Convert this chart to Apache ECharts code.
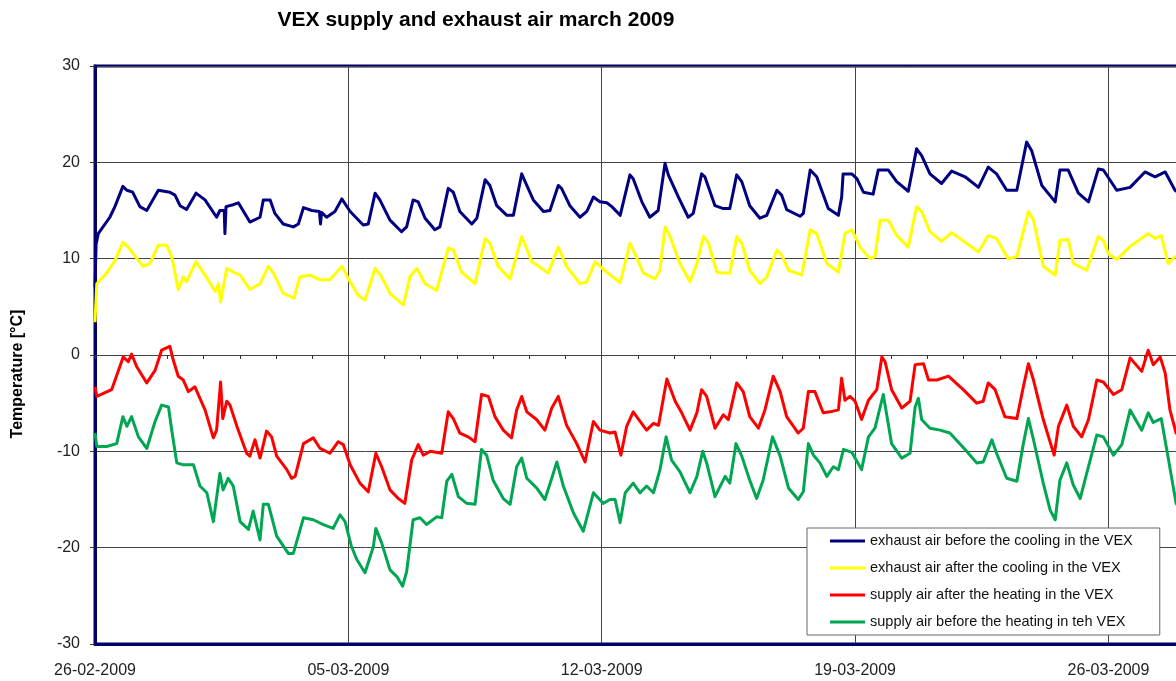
<!DOCTYPE html>
<html>
<head>
<meta charset="utf-8">
<title>VEX supply and exhaust air march 2009</title>
<script src="https://cdn.jsdelivr.net/npm/echarts@6/dist/echarts.min.js"></script>
<style>
  html, body { margin: 0; padding: 0; background: #fff; }
  #chart { width: 1176px; height: 681px; }
</style>
</head>
<body>
<div id="chart"></div>
<script>
// x = days since 26-02-2009 00:00, y = temperature in °C
const dateTicks = ['26-02-2009', '05-03-2009', '12-03-2009', '19-03-2009', '26-03-2009']

const exhaustBefore = [
  [0, 7.0], [0.03, 11.5], [0.09, 12.6], [0.41, 14.3], [0.55, 15.4], [0.77, 17.5], [0.88, 17.1], [1.04, 16.9],
  [1.24, 15.4], [1.43, 15.0], [1.75, 17.1], [2.07, 16.9], [2.21, 16.6], [2.35, 15.5], [2.53, 15.1],
  [2.79, 16.8], [3.04, 16.1], [3.36, 14.3], [3.45, 15.0], [3.57, 15.0], [3.59, 12.6], [3.62, 15.4],
  [3.82, 15.6], [3.96, 15.8], [4.28, 13.8], [4.56, 14.3], [4.65, 16.1], [4.84, 16.1], [4.97, 14.7],
  [5.20, 13.6], [5.48, 13.3], [5.62, 13.6], [5.76, 15.3], [5.99, 15.0], [6.20, 14.9], [6.23, 13.6],
  [6.26, 14.8], [6.40, 14.3], [6.63, 14.9], [6.82, 16.2], [7.05, 14.9], [7.41, 13.5], [7.55, 13.6],
  [7.74, 16.8], [7.87, 16.1], [8.15, 14.0], [8.47, 12.8], [8.61, 13.3], [8.79, 16.1], [8.93, 15.9],
  [9.12, 14.2], [9.39, 13.0], [9.53, 13.3], [9.76, 17.3], [9.90, 16.9], [10.08, 14.9], [10.41, 13.6],
  [10.55, 14.2], [10.78, 18.2], [10.91, 17.6], [11.10, 15.5], [11.38, 14.5], [11.56, 14.5], [11.79, 18.8],
  [11.93, 17.6], [12.11, 16.1], [12.39, 14.9], [12.57, 15.0], [12.80, 17.6], [12.89, 17.3], [13.12, 15.5],
  [13.40, 14.3], [13.59, 14.9], [13.77, 16.4], [13.95, 15.9], [14.14, 15.8], [14.28, 15.4], [14.51, 14.5],
  [14.78, 18.7], [14.87, 18.3], [15.11, 15.9], [15.33, 14.3], [15.56, 15.0], [15.75, 19.9], [15.84, 18.7],
  [16.12, 16.4], [16.39, 14.3], [16.53, 14.7], [16.76, 18.8], [16.85, 18.5], [17.13, 15.5], [17.36, 15.2],
  [17.54, 15.2], [17.73, 18.7], [17.87, 18.0], [18.09, 15.5], [18.37, 14.2], [18.56, 14.5], [18.84, 17.1],
  [18.97, 16.6], [19.11, 15.1], [19.48, 14.4], [19.57, 14.7], [19.76, 19.2], [19.94, 18.5], [20.26, 15.2],
  [20.54, 14.5], [20.63, 16.4], [20.67, 18.8], [20.91, 18.8], [21.05, 18.3], [21.23, 16.9], [21.50, 16.7],
  [21.64, 19.2], [21.92, 19.2], [22.15, 18.0], [22.47, 17.0], [22.70, 21.4], [22.84, 20.7], [23.07, 18.8],
  [23.39, 17.8], [23.67, 19.1], [24.04, 18.5], [24.41, 17.4], [24.68, 19.5], [24.91, 18.8], [25.19, 17.1],
  [25.47, 17.1], [25.74, 22.1], [25.88, 21.2], [26.16, 17.6], [26.53, 15.9], [26.66, 19.2], [26.89, 19.2],
  [27.17, 16.8], [27.45, 15.9], [27.72, 19.3], [27.86, 19.2], [28.23, 17.1], [28.60, 17.4], [29.01, 19.0],
  [29.29, 18.5], [29.57, 19.0], [29.84, 17.1], [30.1, 16.4]
]

const exhaustAfter = [
  [0, 3.4], [0.05, 7.4], [0.32, 8.5], [0.55, 9.8], [0.77, 11.7], [0.92, 11.2], [1.06, 10.5], [1.33, 9.2],
  [1.52, 9.5], [1.75, 11.4], [1.98, 11.4], [2.12, 10.2], [2.30, 6.8], [2.44, 8.1], [2.53, 7.6], [2.79, 9.7],
  [3.04, 8.3], [3.32, 6.6], [3.41, 7.4], [3.47, 5.5], [3.64, 9.0], [3.82, 8.6], [4.01, 8.3], [4.28, 6.8],
  [4.56, 7.4], [4.79, 9.2], [4.93, 8.5], [5.20, 6.4], [5.50, 5.9], [5.66, 8.1], [5.94, 8.3], [6.22, 7.8],
  [6.49, 7.8], [6.82, 9.2], [7.05, 7.6], [7.27, 6.2], [7.46, 5.7], [7.74, 9.0], [7.92, 8.1], [8.15, 6.4],
  [8.52, 5.2], [8.70, 8.1], [8.89, 9.0], [9.12, 7.4], [9.44, 6.7], [9.76, 11.1], [9.90, 10.9], [10.13, 8.6],
  [10.50, 7.4], [10.78, 12.1], [10.91, 11.6], [11.14, 9.2], [11.47, 7.9], [11.79, 12.3], [12.07, 9.7],
  [12.52, 8.5], [12.80, 11.2], [13.03, 9.2], [13.40, 7.4], [13.59, 7.6], [13.82, 9.7], [14.04, 8.9],
  [14.51, 7.5], [14.78, 11.6], [14.92, 10.5], [15.15, 8.5], [15.47, 7.9], [15.61, 8.8], [15.75, 13.3],
  [15.89, 12.3], [16.16, 9.5], [16.44, 7.6], [16.63, 9.5], [16.81, 12.3], [16.95, 11.6], [17.18, 8.6],
  [17.36, 8.5], [17.54, 8.5], [17.73, 12.3], [17.87, 11.6], [18.09, 8.8], [18.37, 7.4], [18.56, 8.1],
  [18.84, 10.9], [18.97, 10.4], [19.16, 8.8], [19.53, 8.3], [19.76, 13.0], [19.94, 12.6], [20.22, 9.5],
  [20.54, 8.6], [20.72, 12.6], [20.91, 13.0], [21.14, 11.2], [21.41, 10.0], [21.55, 10.2], [21.69, 14.0],
  [21.92, 14.0], [22.15, 12.4], [22.47, 11.2], [22.70, 15.4], [22.84, 14.9], [23.07, 12.8], [23.39, 11.8],
  [23.67, 12.7], [24.04, 11.7], [24.41, 10.7], [24.68, 12.4], [24.91, 12.1], [25.23, 10.0], [25.47, 10.2],
  [25.79, 14.9], [25.93, 14.0], [26.20, 9.2], [26.53, 8.3], [26.66, 11.9], [26.89, 12.0], [27.03, 9.5],
  [27.40, 8.8], [27.72, 12.3], [27.86, 11.9], [28.00, 10.5], [28.23, 9.9], [28.64, 11.4], [29.10, 12.6],
  [29.29, 12.1], [29.46, 12.4], [29.65, 9.5], [29.84, 10.2], [30.1, 10.0]
]

const supplyAfter = [
  [0, -3.3], [0.05, -4.3], [0.46, -3.6], [0.78, -0.2], [0.92, -0.7], [1.01, 0.1], [1.15, -1.2], [1.43, -2.9],
  [1.66, -1.6], [1.84, 0.5], [2.07, 0.9], [2.16, -0.5], [2.30, -2.2], [2.44, -2.6], [2.58, -3.8],
  [2.76, -3.3], [3.04, -5.7], [3.27, -8.6], [3.36, -7.8], [3.47, -2.8], [3.53, -6.6], [3.64, -4.8],
  [3.73, -5.2], [3.92, -7.4], [4.19, -10.2], [4.28, -10.5], [4.42, -8.8], [4.56, -10.7], [4.74, -7.9],
  [4.88, -8.5], [5.02, -10.5], [5.30, -11.9], [5.43, -12.8], [5.53, -12.6], [5.76, -9.2], [6.03, -8.6],
  [6.22, -9.7], [6.49, -10.2], [6.72, -9.0], [6.86, -9.3], [7.05, -11.4], [7.32, -13.3], [7.55, -14.2],
  [7.76, -10.2], [7.92, -11.6], [8.15, -14.0], [8.38, -14.9], [8.56, -15.4], [8.75, -10.9], [8.93, -9.3],
  [9.07, -10.4], [9.26, -10.0], [9.58, -10.2], [9.76, -5.9], [9.90, -6.6], [10.08, -8.1], [10.31, -8.5],
  [10.50, -9.0], [10.68, -4.1], [10.87, -4.3], [11.05, -6.4], [11.28, -7.8], [11.51, -8.6], [11.65, -5.7],
  [11.79, -4.3], [11.93, -5.9], [12.20, -6.7], [12.43, -7.8], [12.62, -5.5], [12.80, -4.3], [13.03, -7.3],
  [13.31, -9.2], [13.54, -11.1], [13.77, -6.9], [13.95, -7.8], [14.23, -8.1], [14.37, -8.0], [14.53, -10.4],
  [14.69, -7.4], [14.87, -5.9], [15.06, -6.9], [15.24, -7.8], [15.43, -7.1], [15.57, -7.3], [15.80, -2.5],
  [16.03, -4.8], [16.21, -6.0], [16.44, -7.8], [16.63, -6.0], [16.76, -3.6], [16.90, -4.3], [17.13, -7.6],
  [17.36, -6.2], [17.50, -6.7], [17.73, -2.9], [17.91, -3.8], [18.09, -6.4], [18.33, -7.6], [18.51, -5.7],
  [18.74, -2.2], [18.93, -3.8], [19.11, -6.4], [19.43, -8.1], [19.57, -7.6], [19.71, -3.8], [19.89, -3.8],
  [20.12, -6.0], [20.31, -5.9], [20.54, -5.7], [20.63, -2.4], [20.72, -4.7], [20.86, -4.3], [21.00, -4.8],
  [21.18, -6.7], [21.37, -4.7], [21.60, -3.6], [21.74, -0.2], [21.83, -0.7], [22.01, -3.6], [22.29, -5.5],
  [22.52, -4.8], [22.66, -1.0], [22.89, -0.9], [23.03, -2.6], [23.26, -2.6], [23.58, -2.2], [23.99, -3.6],
  [24.36, -5.0], [24.54, -4.8], [24.68, -2.9], [24.87, -3.6], [25.14, -6.4], [25.47, -6.6], [25.65, -3.3],
  [25.79, -0.9], [25.93, -2.6], [26.20, -6.7], [26.50, -10.4], [26.62, -7.4], [26.85, -5.2], [27.03, -7.4],
  [27.26, -8.5], [27.45, -6.7], [27.68, -2.6], [27.86, -2.8], [28.14, -4.1], [28.37, -3.6], [28.60, -0.3],
  [28.92, -1.7], [29.10, 0.5], [29.24, -1.0], [29.43, -0.2], [29.57, -1.9], [29.70, -5.7], [29.87, -8.1],
  [30.1, -9.0]
]

const supplyBefore = [
  [0, -8.1], [0.05, -9.5], [0.32, -9.5], [0.60, -9.2], [0.77, -6.4], [0.88, -7.4], [1.01, -6.4], [1.20, -8.5],
  [1.43, -9.7], [1.66, -6.9], [1.84, -5.2], [2.03, -5.4], [2.12, -7.8], [2.26, -11.2], [2.44, -11.4],
  [2.72, -11.4], [2.90, -13.6], [3.09, -14.3], [3.27, -17.3], [3.45, -12.3], [3.54, -14.0], [3.68, -12.8],
  [3.82, -13.6], [4.01, -17.3], [4.24, -18.1], [4.37, -16.2], [4.56, -19.2], [4.65, -15.5], [4.79, -15.5],
  [5.02, -18.8], [5.34, -20.6], [5.48, -20.6], [5.76, -16.9], [6.03, -17.1], [6.31, -17.6], [6.58, -18.0],
  [6.77, -16.6], [6.91, -17.3], [7.08, -19.8], [7.23, -21.2], [7.46, -22.6], [7.69, -19.9], [7.76, -18.0],
  [7.92, -19.5], [8.15, -22.3], [8.34, -23.0], [8.50, -24.0], [8.61, -22.5], [8.79, -17.1], [8.98, -16.9],
  [9.16, -17.6], [9.44, -16.8], [9.58, -16.9], [9.72, -13.1], [9.86, -12.4], [10.04, -14.7], [10.27, -15.4],
  [10.50, -15.5], [10.68, -9.8], [10.82, -10.4], [11.00, -13.0], [11.28, -14.9], [11.47, -15.5],
  [11.65, -11.6], [11.79, -10.7], [11.93, -12.8], [12.20, -13.8], [12.43, -15.0], [12.62, -12.8],
  [12.76, -11.1], [12.94, -13.6], [13.22, -16.4], [13.49, -18.3], [13.77, -14.3], [14.04, -15.4],
  [14.23, -15.0], [14.37, -15.0], [14.51, -17.4], [14.65, -14.3], [14.87, -13.3], [15.06, -14.3],
  [15.24, -13.6], [15.43, -14.3], [15.61, -11.9], [15.78, -8.5], [15.93, -10.9], [16.16, -12.1],
  [16.44, -14.3], [16.63, -12.6], [16.79, -10.0], [16.90, -11.2], [17.13, -14.7], [17.41, -12.6],
  [17.54, -13.3], [17.71, -9.2], [17.87, -10.5], [18.09, -13.0], [18.28, -14.9], [18.46, -13.0],
  [18.72, -8.5], [18.93, -10.5], [19.16, -13.8], [19.43, -15.0], [19.57, -14.2], [19.71, -9.2],
  [19.85, -10.4], [20.03, -11.2], [20.22, -12.6], [20.40, -11.6], [20.54, -11.9], [20.68, -9.8],
  [20.91, -10.1], [21.00, -10.7], [21.18, -11.9], [21.37, -8.5], [21.55, -7.6], [21.78, -4.1], [22.01, -9.2],
  [22.29, -10.7], [22.52, -10.2], [22.66, -5.4], [22.75, -4.5], [22.84, -6.7], [23.07, -7.6], [23.35, -7.8],
  [23.62, -8.1], [24.04, -9.8], [24.36, -11.2], [24.54, -11.1], [24.78, -8.8], [24.91, -10.2],
  [25.19, -12.8], [25.47, -13.1], [25.65, -9.2], [25.79, -6.6], [25.93, -8.8], [26.20, -13.3],
  [26.39, -16.1], [26.53, -17.1], [26.66, -13.0], [26.85, -11.2], [27.03, -13.5], [27.22, -14.9],
  [27.40, -12.3], [27.68, -8.3], [27.86, -8.5], [28.14, -10.4], [28.37, -9.3], [28.60, -5.7], [28.92, -7.8],
  [29.10, -6.0], [29.24, -7.0], [29.46, -6.6], [29.62, -10.0], [29.87, -15.4], [30.1, -16.5]
]

const seriesNames = [
  'exhaust air before the cooling in the VEX',
  'exhaust air after the cooling in the VEX',
  'supply air after the heating in the VEX',
  'supply air before the heating in teh VEX'
]
const seriesColors = ['#000080', '#FFFF00', '#FF0000', '#00A651']
const seriesData = [exhaustBefore, exhaustAfter, supplyAfter, supplyBefore]

const xMax = 30.42
const font = 'Arial, "Liberation Sans", sans-serif'

const chart = echarts.init(document.getElementById('chart'), null, { renderer: 'canvas' })

const option = {
  animation: false,
  backgroundColor: '#fff',
  title: {
    text: 'VEX supply and exhaust air march 2009',
    left: 471,
    top: 5,
    textAlign: 'center',
    textStyle: { fontFamily: font, fontSize: 21, fontWeight: 'bold', color: '#000' }
  },
  graphic: [{
    type: 'text',
    x: 18,
    y: 374,
    rotation: Math.PI / 2,
    style: {
      text: 'Temperature [°C]',
      font: 'bold 16px ' + font,
      fill: '#000',
      textAlign: 'center',
      textVerticalAlign: 'middle'
    }
  }],
  legend: {
    orient: 'vertical',
    left: 807,
    top: 528,
    padding: [5, 27, 5, 23],
    itemGap: 11,
    itemWidth: 35,
    itemHeight: 3,
    icon: 'rect',
    backgroundColor: '#fff',
    borderColor: '#666',
    borderWidth: 1,
    selectedMode: false,
    textStyle: { fontFamily: font, fontSize: 14.5, color: '#111', lineHeight: 16 },
    data: seriesNames
  },
  grid: {
    left: 95,
    right: -20,
    top: 66,
    bottom: 37,
    show: true,
    borderColor: '#000066',
    borderWidth: 3,
    backgroundColor: 'transparent',
    containLabel: false,
    outerBoundsMode: 'none'
  },
  xAxis: [{
    type: 'value',
    min: 0,
    max: xMax,
    interval: 7,
    axisLine: { onZero: false, lineStyle: { color: '#000066', width: 3 } },
    axisTick: { show: false },
    splitLine: { show: true, lineStyle: { color: '#444', width: 1 } },
    axisLabel: {
      margin: 19,
      fontFamily: font,
      fontSize: 16,
      color: '#222',
      formatter: (v) => {
        const k = v / 7
        return Math.abs(k - Math.round(k)) < 1e-6 ? (dateTicks[Math.round(k)] || '') : ''
      }
    }
  }, {
    // the category axis crossing at 0 with its daily tick marks
    type: 'value',
    min: 0,
    max: xMax,
    interval: 1,
    position: 'bottom',
    axisLine: { onZero: true, lineStyle: { color: '#444', width: 1 } },
    axisTick: { show: true, length: 4, lineStyle: { color: '#333' } },
    axisLabel: { show: false },
    splitLine: { show: false }
  }],
  yAxis: {
    type: 'value',
    min: -30,
    max: 30,
    interval: 10,
    axisLine: { show: true, lineStyle: { color: '#000066', width: 3 } },
    axisTick: { show: true, length: 5, lineStyle: { color: '#333' } },
    splitLine: { show: true, lineStyle: { color: '#444', width: 1 } },
    axisLabel: { margin: 15, fontFamily: font, fontSize: 16, color: '#222' }
  },
  series: seriesNames.map((name, i) => ({
    name: name,
    type: 'line',
    xAxisIndex: 0,
    data: seriesData[i],
    showSymbol: false,
    symbol: 'none',
    color: seriesColors[i],
    lineStyle: { width: 3, color: seriesColors[i], join: 'round' },
    emphasis: { disabled: true }
  }))
}

chart.setOption(option)
</script>
</body>
</html>
